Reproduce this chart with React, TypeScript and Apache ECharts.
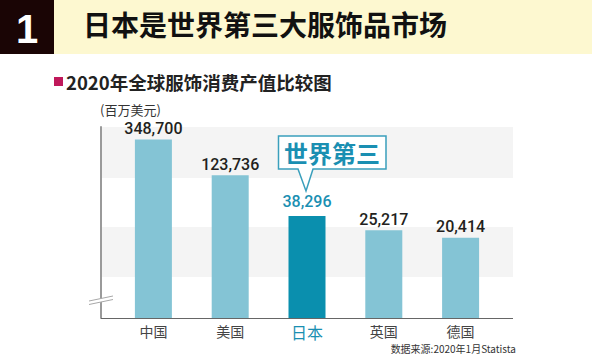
import React, { useEffect, useRef } from "react";
import * as echarts from "echarts";

const categories = ["中国", "美国", "日本", "英国", "德国"];
const values = [348700, 123736, 38296, 25217, 20414];
const highlightName = "日本";
const headerNumber = "1";
const headerTitle = "日本是世界第三大服饰品市场";
const subTitle = "2020年全球服饰消费产值比较图";
const unitText = "(百万美元)";
const calloutText = "世界第三";
const sourceText = "数据来源:2020年1月Statista";

const TEAL = "#0a8fae";
const TEAL_TEXT = "#1a8fb2";
const LIGHT = "#84c4d5";
const NUM_FONT = "Roboto, 'Liberation Sans', sans-serif";
const CJK_FONT = "'Noto Sans CJK SC', 'Noto Sans', sans-serif";

export default function App() {
  const ref = useRef<HTMLDivElement>(null);
  useEffect(() => {
    if (!ref.current) return;
    const chart = echarts.init(ref.current, null, { renderer: "svg" });
    const fmt = (v: number) => v.toLocaleString("en-US");
    chart.setOption({
      animation: false,
      backgroundColor: "#ffffff",
      grid: { left: 115, right: 93, top: 127, bottom: 36 },
      xAxis: {
        type: "category",
        data: categories,
        axisLine: { show: false },
        axisTick: { show: false },
        axisLabel: {
          margin: 6,
          lineHeight: 14,
          formatter: (v: string) => (v === highlightName ? `{hl|${v}}` : `{n|${v}}`),
          rich: {
            n: { fontSize: 14, lineHeight: 14, color: "#444", fontFamily: CJK_FONT },
            hl: { fontSize: 16, lineHeight: 15, color: TEAL_TEXT, fontFamily: CJK_FONT },
          },
        },
      },
      yAxis: {
        type: "log",
        logBase: 10,
        min: 2000,
        max: 500000,
        offset: 14,
        axisLine: { show: true, lineStyle: { color: "#9a9a9a", width: 2 } },
        axisTick: { show: false },
        axisLabel: { show: false },
        splitLine: { show: false },
      },
      series: [
        {
          type: "bar",
          barWidth: 37,
          clip: true,
          z: 5,
          data: values.map((v, i) => {
            const hl = categories[i] === highlightName;
            return {
              value: v,
              itemStyle: { color: hl ? TEAL : LIGHT },
              label: hl ? { color: TEAL_TEXT, distance: 6 } : undefined,
            };
          }),
          label: {
            show: true,
            position: "top",
            distance: 3,
            fontSize: 16,
            fontWeight: 500,
            fontFamily: NUM_FONT,
            color: "#231f20",
            formatter: (p: any) => fmt(p.value),
          },
        },
      ],
      graphic: [
        { type: "rect", z: -10, silent: true, shape: { x: 0, y: 0, width: 592, height: 54 }, style: { fill: "#fdf8d0" } },
        { type: "rect", z: -9, silent: true, shape: { x: 0, y: 0, width: 54, height: 54 }, style: { fill: "#1a0505" } },
        {
          type: "text", z: 1, x: 27, y: 29,
          style: { text: headerNumber, fill: "#ffffff", font: "bold 40px 'Liberation Sans', Arial, sans-serif", textAlign: "center", textVerticalAlign: "middle" },
        },
        {
          type: "text", z: 1, x: 83, y: 24,
          style: { text: headerTitle, fill: "#111111", font: `bold 28px ${CJK_FONT}`, textAlign: "left", textVerticalAlign: "middle" },
        },
        { type: "rect", z: 1, shape: { x: 54, y: 77, width: 9, height: 9 }, style: { fill: "#c0185a" } },
        {
          type: "text", z: 1, x: 66, y: 81.5,
          style: { text: subTitle, fill: "#222222", font: `bold 18.5px ${CJK_FONT}`, textAlign: "left", textVerticalAlign: "middle" },
        },
        {
          type: "text", z: 1, x: 100, y: 109,
          style: { text: unitText, fill: "#333333", font: `13px ${CJK_FONT}`, textAlign: "left", textVerticalAlign: "middle" },
        },
        { type: "rect", z: -5, silent: true, shape: { x: 101, y: 127, width: 412, height: 51 }, style: { fill: "#f4f4f4" } },
        { type: "rect", z: -5, silent: true, shape: { x: 101, y: 227, width: 412, height: 50 }, style: { fill: "#f4f4f4" } },
        { type: "line", z: 20, shape: { x1: 101, y1: 318.5, x2: 513, y2: 318.5 }, style: { stroke: "#666666", lineWidth: 1 } },
        { type: "polygon", z: 30, shape: { points: [[89, 301], [113, 296], [113, 299.5], [89, 304.5]] }, style: { fill: "#ffffff" } },
        { type: "line", z: 31, shape: { x1: 89, y1: 301, x2: 113, y2: 296 }, style: { stroke: "#a8a8a8", lineWidth: 1 } },
        { type: "line", z: 31, shape: { x1: 89, y1: 304.5, x2: 113, y2: 299.5 }, style: { stroke: "#a8a8a8", lineWidth: 1 } },
        {
          type: "polygon", z: 40,
          shape: { points: [[278.5, 136], [386, 136], [386, 169], [313, 169], [306, 191], [298, 169], [278.5, 169]] },
          style: { fill: "#ffffff", stroke: "#3a9fbc", lineWidth: 1.5 },
        },
        {
          type: "text", z: 41, x: 332, y: 152.5,
          style: { text: calloutText, fill: TEAL_TEXT, font: `bold 24px ${CJK_FONT}`, textAlign: "center", textVerticalAlign: "middle" },
        },
        {
          type: "text", z: 1, x: 516, y: 348,
          style: { text: sourceText, fill: "#333333", font: `10px ${CJK_FONT}`, textAlign: "right", textVerticalAlign: "middle" },
        },
      ],
    });
    return () => chart.dispose();
  }, []);
  return <div ref={ref} style={{ position: "fixed", left: 0, top: 0, width: 592, height: 354 }} />;
}
